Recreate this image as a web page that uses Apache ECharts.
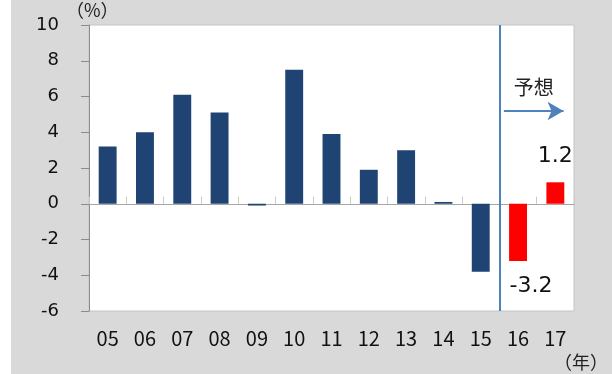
<!DOCTYPE html>
<html>
<head>
<meta charset="utf-8">
<script src="https://cdn.jsdelivr.net/npm/echarts@6/dist/echarts.min.js"></script>
<style>
  html, body { margin: 0; padding: 0; background: #fff; }
  #chart { width: 612px; height: 374px; }
</style>
</head>
<body>
<div id="chart"></div>
<script>
// 年ごとの値 (05〜15 実績, 16〜17 予想)
const years = ['05', '06', '07', '08', '09', '10', '11', '12', '13', '14', '15', '16', '17'];
const actual = [3.2, 4.0, 6.1, 5.1, -0.1, 7.5, 3.9, 1.9, 3.0, 0.1, -3.8, null, null];
const forecast = [null, null, null, null, null, null, null, null, null, null, null, -3.2, 1.2];
const yTicks = { min: -6, max: 10, interval: 2 };

const navy = '#1f4373';
const blue = '#4f81bd';
const labelFont = 'DejaVu Sans';

const chart = echarts.init(document.getElementById('chart'));

const option = {
    animation: false,
    backgroundColor: '#fff',
    graphic: [
        { type: 'rect', z: -10, shape: { x: 11, y: 0, width: 601, height: 374 }, style: { fill: '#d9d9d9' } },
        { type: 'text', left: 66, top: 1, style: { text: '（%）', font: '18px "Noto Sans CJK JP"', fill: '#222' } },
        { type: 'text', left: 554, top: 353, style: { text: '（年）', font: '18px "Noto Sans CJK JP"', fill: '#222' } }
    ],
    grid: {
        left: 89, right: 38, top: 25, bottom: 63,
        show: true, backgroundColor: '#fff', borderColor: '#c4c4c4', borderWidth: 1
    },
    xAxis: [
        {
            type: 'category',
            data: years,
            axisLine: { onZero: true, lineStyle: { color: '#a6a6a6', width: 1 } },
            axisTick: { show: true, inside: true, length: 7, lineStyle: { color: '#c8c8c8' } },
            axisLabel: { show: false }
        },
        {
            type: 'category',
            data: years,
            position: 'bottom',
            axisLine: { show: false, onZero: false },
            axisTick: { show: false },
            axisLabel: {
                margin: 17,
                fontFamily: '"Noto Sans CJK JP"',
                fontSize: 20, color: '#111'
            }
        },
        {
            // 注記用の隠し軸 (カテゴリ中心 = 0..12)
            type: 'value',
            min: -0.5, max: years.length - 0.5,
            show: false
        }
    ],
    yAxis: {
        type: 'value',
        min: yTicks.min, max: yTicks.max, interval: yTicks.interval,
        splitLine: { show: false },
        axisLine: { show: true, onZero: false, lineStyle: { color: '#8c8c8c' } },
        axisTick: { show: true, length: 8, lineStyle: { color: '#8c8c8c' } },
        axisLabel: { margin: 30, fontFamily: labelFont, fontSize: 18, color: '#111' }
    },
    series: [
        {
            type: 'bar',
            data: actual,
            barWidth: '48%',
            barGap: '-100%',
            itemStyle: { color: navy }
        },
        {
            type: 'bar',
            data: forecast.map(function (v) {
                if (v === null) return null;
                return {
                    value: v,
                    label: v < 0
                        ? { show: true, position: 'bottom', distance: 14, offset: [13, 0] }
                        : { show: true, position: 'top', distance: 15 }
                };
            }),
            barWidth: '48%',
            barGap: '-100%',
            itemStyle: { color: '#ff0000' },
            label: { fontFamily: labelFont, fontSize: 22, color: '#111' }
        },
        {
            type: 'scatter',
            xAxisIndex: 2,
            data: [],
            markLine: {
                silent: true,
                symbol: 'none',
                animation: false,
                data: [
                    [
                        { coord: [10.5, 10], lineStyle: { color: blue, width: 2, type: 'solid' }, label: { show: false } },
                        { coord: [10.5, -6] }
                    ],
                    [
                        {
                            coord: [10.62, 5.19],
                            symbol: 'none',
                            lineStyle: { color: blue, width: 2, type: 'solid' },
                            label: {
                                show: true, position: 'middle', formatter: '予想', distance: 14,
                                fontFamily: '"Noto Sans CJK JP"', fontSize: 20, color: '#222'
                            }
                        },
                        { coord: [12.22, 5.19], symbol: 'arrow', symbolSize: [14, 16] }
                    ]
                ]
            }
        }
    ]
};

chart.setOption(option);
</script>
</body>
</html>
